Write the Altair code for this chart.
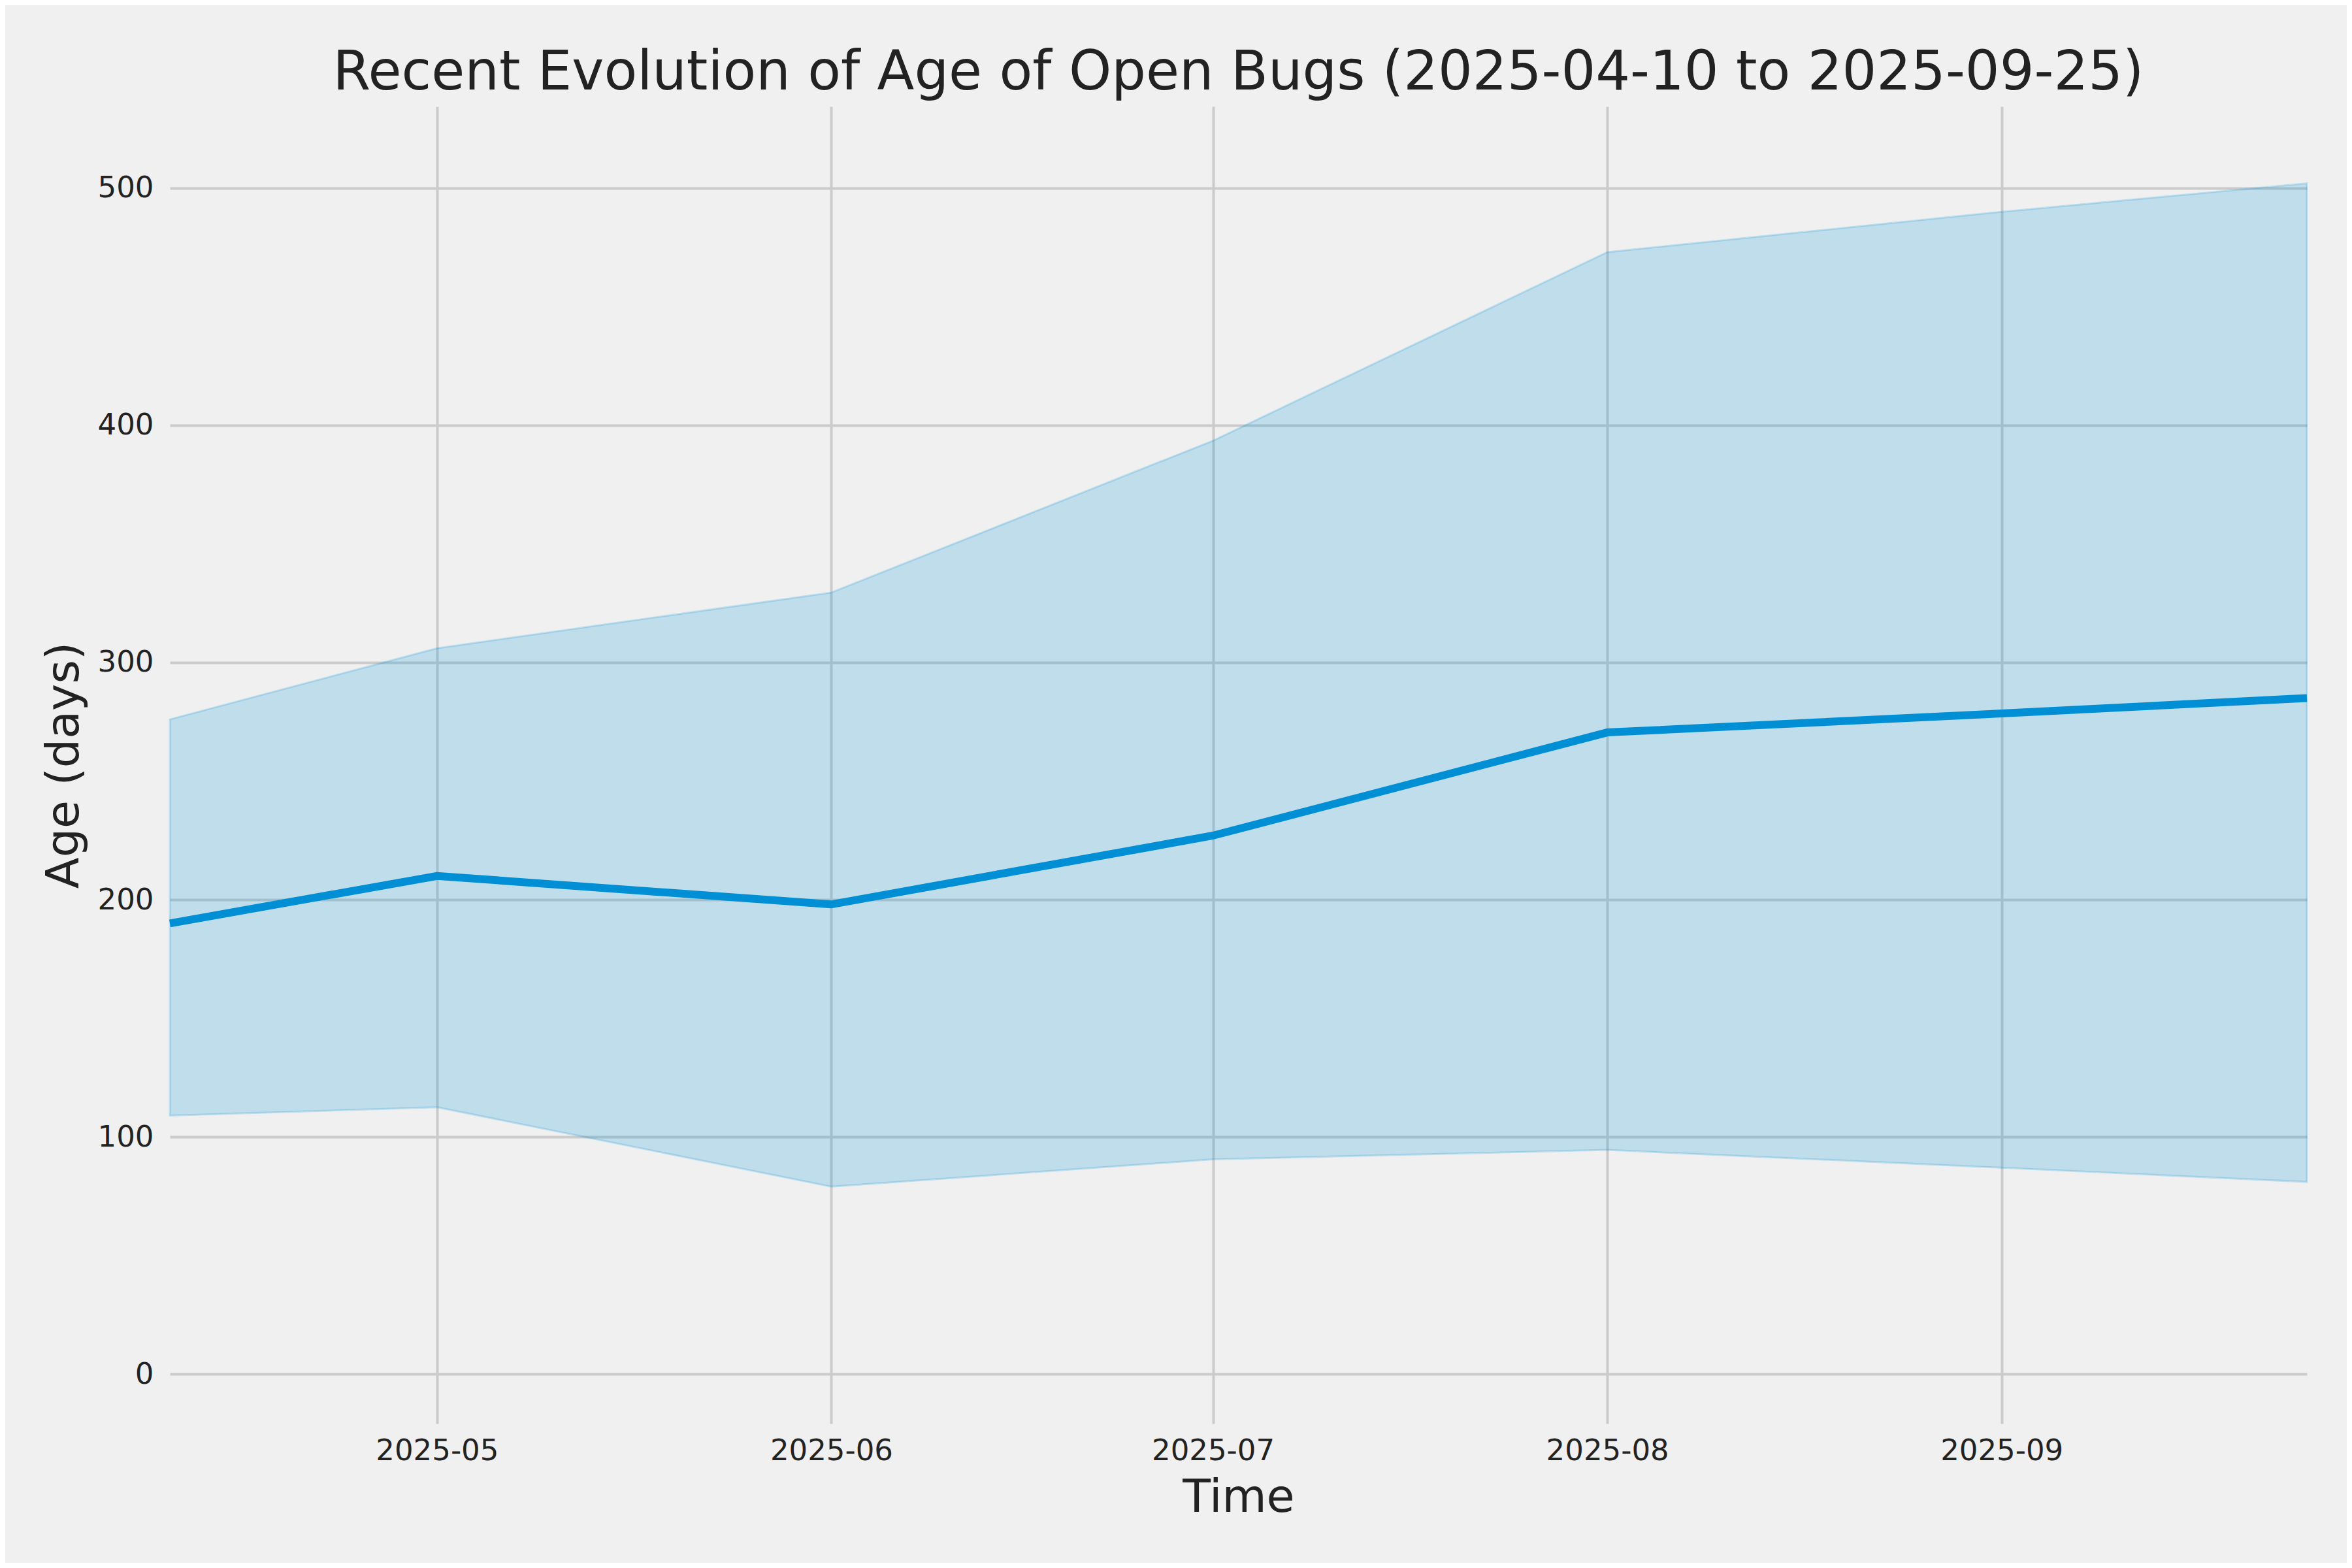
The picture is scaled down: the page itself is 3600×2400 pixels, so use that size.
import altair as alt
import pandas as pd

dates = ["2025-04-10", "2025-05-01", "2025-06-01", "2025-07-01", "2025-08-01", "2025-09-01", "2025-09-25"]
median_age = [190, 210, 198, 227, 270.5, 278.5, 285]
upper_age = [276, 306, 329.5, 393.5, 473, 490, 502]
lower_age = [109, 112.5, 79, 90.5, 94.5, 87, 81]

tick_months = ["2025-05-01", "2025-06-01", "2025-07-01", "2025-08-01", "2025-09-01"]
y_ticks = [0, 100, 200, 300, 400, 500]

df = pd.DataFrame({"date": dates, "median": median_age, "upper": upper_age, "lower": lower_age})

FONT = "DejaVu Sans"
TXT = "#222222"
W, H = 3271, 2016

x_axis = alt.Axis(
    title="Time",
    values=[alt.DateTime(year=int(d[:4]), month=int(d[5:7]), date=int(d[8:]), utc=True) for d in tick_months],
    format="%Y-%m",
    labelFont=FONT, labelFontSize=45, labelColor=TXT, labelLimit=0,
    labelBaseline="alphabetic", labelPadding=55,
    ticks=False, tickSize=0, domain=False,
    grid=True, gridColor="#cbcbcb", gridWidth=4,
    titleFont=FONT, titleFontSize=70, titleFontWeight="normal", titleColor=TXT,
    titleBaseline="alphabetic", titleY=134, titleX=W / 2,
    labelFlush=False,
)
x_scale = alt.Scale(type="utc", domain=[dates[0], dates[-1]], nice=False)

y_axis = alt.Axis(
    title="Age (days)",
    values=y_ticks,
    labelFont=FONT, labelFontSize=45, labelColor=TXT, labelLimit=0,
    labelPadding=25, labelBaseline="middle",
    ticks=False, tickSize=0, domain=False,
    grid=True, gridColor="#cbcbcb", gridWidth=4,
    titleFont=FONT, titleFontSize=70, titleFontWeight="normal", titleColor=TXT,
    titleBaseline="alphabetic", titleX=-141, titleY=H / 2, titleAngle=270,
    titleAlign="center",
)
y_scale = alt.Scale(domain=[-20.9, 534.4], nice=False, zero=False)

band = alt.Chart(df).mark_area(
    color="#008fd5", fillOpacity=0.2, stroke="#008fd5", strokeOpacity=0.2, strokeWidth=3
).encode(
    x=alt.X("date:T", scale=x_scale, axis=x_axis),
    y=alt.Y("upper:Q", scale=y_scale, axis=y_axis),
    y2="lower:Q",
)

line = alt.Chart(df).mark_line(color="#008fd5", strokeWidth=12, strokeCap="butt").encode(
    x=alt.X("date:T", scale=x_scale, axis=x_axis),
    y=alt.Y("median:Q", scale=y_scale, axis=y_axis),
)

chart = (
    alt.layer(band, line)
    .properties(
        width=W,
        height=H,
        background="#f0f0f0",
        autosize=alt.AutoSizeParams(type="none"),
        padding={"left": 252, "top": 155, "right": 61, "bottom": 213},
        title=alt.TitleParams(
            "Recent Evolution of Age of Open Bugs (2025-04-10 to 2025-09-25)",
            font=FONT, fontSize=83, fontWeight="normal", color=TXT,
            anchor="middle", frame="group", baseline="bottom", offset=11, dy=85,
        ),
    )
    .configure_view(stroke=None)
)

chart.save("out.html", embed_options={"renderer": "svg", "actions": False})
